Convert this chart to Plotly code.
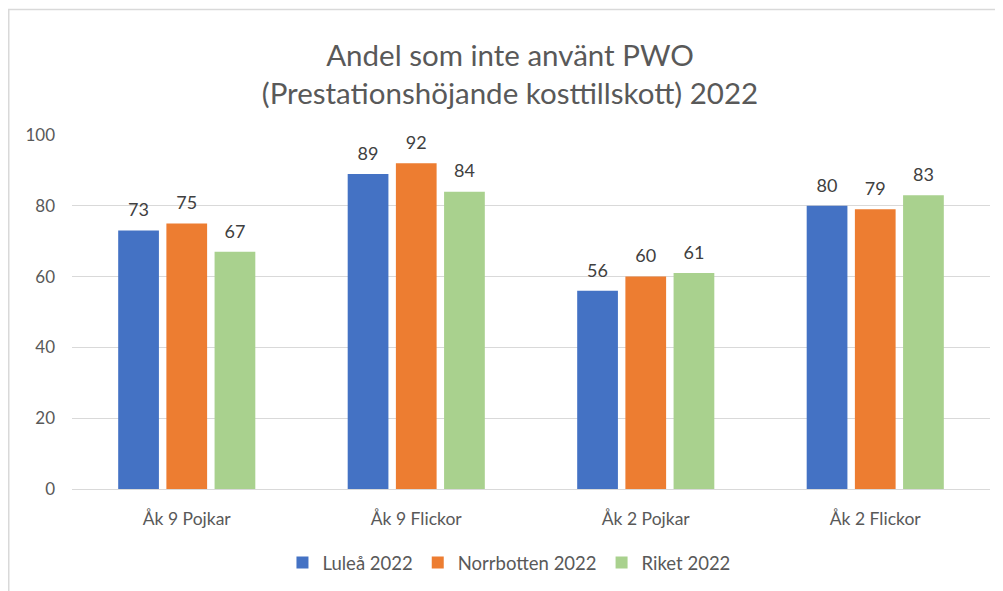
import plotly.graph_objects as go

categories = ["Åk 9 Pojkar", "Åk 9 Flickor", "Åk 2 Pojkar", "Åk 2 Flickor"]
series_names = ["Luleå 2022", "Norrbotten 2022", "Riket 2022"]
lulea = [73, 89, 56, 80]
norrbotten = [75, 92, 60, 79]
riket = [67, 84, 61, 83]
colors = ["#4472C4", "#ED7D31", "#A9D18E"]
y_ticks = [0, 20, 40, 60, 80, 100]

FONT = "Lato, Carlito, 'Open Sans', sans-serif"
BARGAP = 0.37

fig = go.Figure()
for i, (name, vals, col) in enumerate(zip(series_names, [lulea, norrbotten, riket], colors)):
    fig.add_trace(go.Bar(
        x=categories, y=vals, name=name, marker_color=col,
        marker_line_width=0, offsetgroup=str(i), hoverinfo="x+y+name",
    ))
for i, (name, vals) in enumerate(zip(series_names, [lulea, norrbotten, riket])):
    fig.add_trace(go.Scatter(
        x=categories, y=vals, mode="markers+text", offsetgroup=str(i),
        marker=dict(size=14, opacity=0), showlegend=False, hoverinfo="skip",
        text=[str(v) for v in vals], textposition="top center",
        textfont=dict(size=18, color="#404040", family=FONT),
        cliponaxis=False,
    ))

# page body has an 8px margin, so the figure is sized to fit the window
W, H = 995, 583
L, R, T, B = 64, 13, 127, 102
pw = W - L - R
ph = H - T - B

def px_x(x):
    return (x - L) / pw

def px_y(y):
    return (H - B - y) / ph

fig.update_layout(
    width=W, height=H,
    margin=dict(l=L, r=R, t=T, b=B, autoexpand=False),
    paper_bgcolor="white", plot_bgcolor="white",
    font=dict(family=FONT, color="#595959", size=16),
    title=dict(
        text="Andel som inte använt PWO<br>(Prestationshöjande kosttillskott) 2022",
        x=0.5045, xanchor="center", y=1 - 58 / H, yanchor="middle",
        font=dict(size=29.5, color="#595959", family=FONT),
    ),
    barmode="group", bargap=BARGAP, bargroupgap=0.155,
    scattermode="group", scattergap=BARGAP,
    showlegend=True,
    legend=dict(
        orientation="h", x=0.476, xanchor="center", y=px_y(555), yanchor="middle",
        font=dict(size=18.5, color="#595959", family=FONT),
        traceorder="normal",
    ),
    xaxis=dict(showgrid=False, showline=False, ticks="", ticklabelstandoff=17,
               tickfont=dict(size=17.5, color="#595959")),
    yaxis=dict(range=[0, 100], tickvals=y_ticks, showgrid=True, gridcolor="#D9D9D9",
               gridwidth=1, zeroline=True, zerolinecolor="#D9D9D9", zerolinewidth=1,
               showline=False, ticks="", ticklabelstandoff=16,
               tickfont=dict(size=17, color="#595959")),
    shapes=[dict(type="rect", xref="paper", yref="paper",
                 x0=px_x(0.75), x1=px_x(1010), y0=px_y(600), y1=px_y(1.5),
                 line=dict(color="#D9D9D9", width=1.5), fillcolor="rgba(0,0,0,0)", layer="below")],
)

fig.write_html("out.html")
